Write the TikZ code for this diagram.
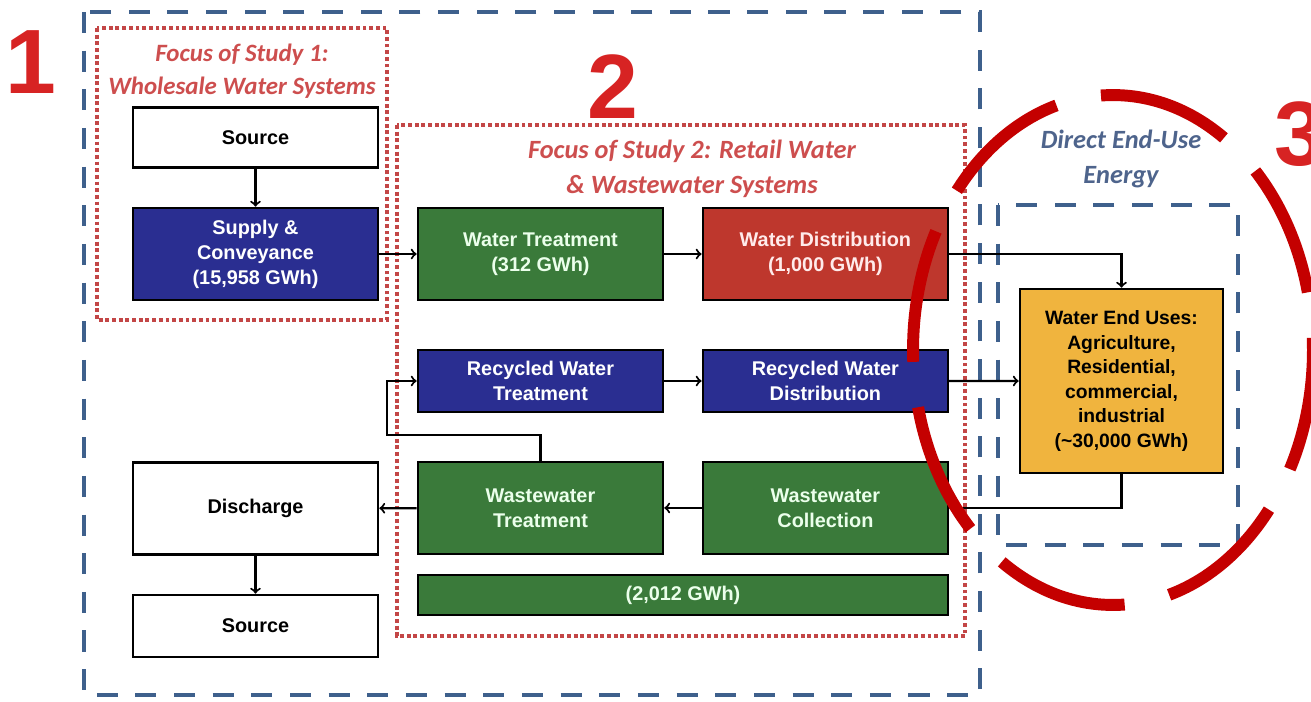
\documentclass[tikz,border=0pt]{standalone}
\usepackage{fontspec}
\setmainfont{Liberation Sans}
\newfontfamily\titlefont{Carlito}
\usepackage{tikz}
\definecolor{navybox}{RGB}{42,46,145}
\definecolor{greenbox}{RGB}{58,122,58}
\definecolor{redbox}{RGB}{190,55,45}
\definecolor{orangebox}{RGB}{240,180,62}
\definecolor{frameblue}{RGB}{62,96,140}
\definecolor{focusred}{RGB}{195,70,70}
\definecolor{titlered}{RGB}{205,78,78}
\definecolor{titleblue}{RGB}{78,100,140}
\definecolor{ringred}{RGB}{196,0,0}
\definecolor{digitred}{RGB}{215,35,35}
\tikzset{box style/.style={
		draw=black,
		line width=1.5pt,
		rectangle,
		minimum width=4.9cm,
		minimum height=1.84cm,
		font=\bfseries\fontsize{11.3}{14.2}\selectfont,
		text=white,
		align=center,
		inner sep=2pt,
	},
	white style/.style={
		box style,
		fill=white,
		text=black,
	},
	navy style/.style={
		box style,
		fill=navybox,
	},
	green style/.style={
		box style,
		fill=greenbox,
		text=white!92!green,
	},
	red style/.style={
		box style,
		fill=redbox,
		text=white!92!red,
	},
	orange style/.style={
		box style,
		fill=orangebox,
		text=black,
	},
	link style/.style={
		->,
		line width=1.2pt,
		black,
	},
	frame style/.style={
		draw=frameblue,
		line width=2.8pt,
		dash pattern=on 12pt off 10pt,
	},
	focus style/.style={
		draw=focusred,
		line width=2.4pt,
		dash pattern=on 2.2pt off 1.6pt,
	},
	title style/.style={
		font=\titlefont\bfseries\itshape\fontsize{15}{20}\selectfont,
		text=titlered,
		align=center,
	},
	digit style/.style={
		font=\bfseries\fontsize{52}{52}\selectfont,
		text=digitred,
	},
	ring style/.style={
		draw=ringred,
		line width=6.8pt,
		dash pattern=on 76pt off 26pt,
		dash phase=69pt,
	}
}
\begin{document}
\begin{tikzpicture}[x=0.02cm, y=-0.02cm, node distance=5.7cm]
	\useasboundingbox (0,0) rectangle (1311,701);
	
	\draw[frame style] (84,12) rectangle (980,695);
	\draw[focus style] (97,28) rectangle (387,320);
	\draw[focus style] (397,125) rectangle (965,636);
	\draw[frame style] (998,205) rectangle (1238,545);
	
	\node[digit style] (num1) at (31,62) {1};
	\node[digit style] (num2) at (613,87) {2};
	\node[digit style] (num3) at (1300,134) {3};
	
	\node[title style, font=\titlefont\bfseries\itshape\fontsize{14.2}{19}\selectfont] (focus1) at (242,71) {Focus of Study 1:\\Wholesale Water Systems};
	\node[title style] (focus2) at (692,169) {Focus of Study 2: Retail Water\\\& Wastewater Systems};
	\node[title style, text=titleblue] (direct) at (1121,159) {Direct End-Use\\Energy};
	
	\node[white style, minimum height=1.2cm] (src1) at (255.5,137.5) {Source};
	\node[navy style] (supply) at (255.5,254) {Supply \&\\Conveyance\\(15,958 GWh)};
	\node[green style, right of=supply] (wtreat) {Water Treatment\\(312 GWh)};
	\node[red style, right of=wtreat] (wdist) {Water Distribution\\(1,000 GWh)};
	
	\node[navy style, minimum height=1.24cm, node distance=2.54cm, below of=wtreat] (rtreat) {Recycled Water\\Treatment};
	\node[navy style, minimum height=1.24cm, right of=rtreat] (rdist) {Recycled Water\\Distribution};
	
	\node[green style, node distance=2.54cm, below of=rtreat] (wwtreat) {Wastewater\\Treatment};
	\node[green style, right of=wwtreat] (wcoll) {Wastewater\\Collection};
	\node[green style, minimum width=10.6cm, minimum height=0.8cm] (wwtotal) at (683,595) {(2,012 GWh)};
	
	\node[white style, minimum height=1.84cm] (discharge) at (255.5,508.5) {Discharge};
	\node[white style, minimum height=1.24cm, node distance=2.35cm, below of=discharge] (src2) {Source};
	
	\node[orange style, minimum width=4.06cm, minimum height=3.68cm, font=\bfseries\fontsize{11}{13.9}\selectfont] (enduse) at (1121.5,381) {Water End Uses:\\Agriculture,\\Residential,\\commercial,\\industrial\\(\textasciitilde30,000 GWh)};
	
	\draw[link style] (src1) -- (supply);
	\draw[link style] (supply) -- (wtreat);
	\draw[link style] (wtreat) -- (wdist);
	\draw[link style] (wdist.east) -| (enduse.north);
	\draw[link style] (rtreat) -- (rdist);
	\draw[link style] (rdist.east) -- (enduse.west);
	\draw[link style] (enduse.south) |- (wcoll.east);
	\draw[link style] (wcoll) -- (wwtreat);
	\draw[link style] (wwtreat) -- (discharge);
	\coordinate (bypass) at (387,435);
	\draw[link style] (wwtreat.north) |- (bypass) |- (rtreat.west);
	\draw[link style] (discharge) -- (src2);
	
	\draw[ring style] (1113,350) ellipse [x radius=4cm, y radius=5.1cm];
\end{tikzpicture}
\end{document}
